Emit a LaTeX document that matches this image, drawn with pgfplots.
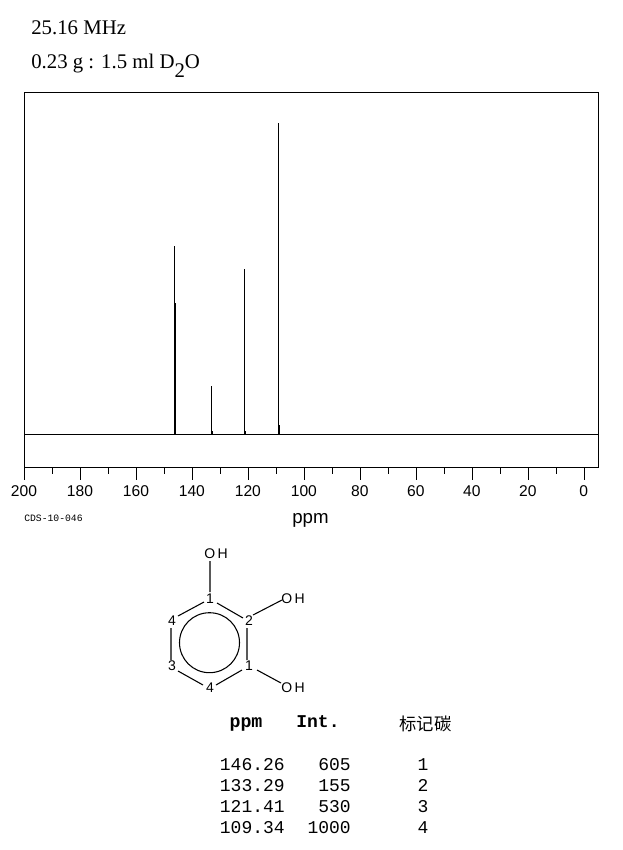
\documentclass[border=0pt]{standalone}
\usepackage{fontspec}
\usepackage{pgfplots}
\pgfplotsset{compat=1.18}
\setmainfont{Liberation Serif}
\newfontfamily\sans{Liberation Sans}
\newfontfamily\mono{Liberation Mono}
\newfontfamily\cjk{Noto Sans CJK SC}
% picture is laid out in reference pixels, 1px = 0.75pt, y running down
\begin{document}
\begin{tikzpicture}[x=0.75pt,y=-0.75pt]
\path[use as bounding box] (0,0) rectangle (622,850);

\begin{axis}[
  at={(18.6pt,-350.8pt)},anchor=south west,
  scale only axis,width=430.3pt,height=281.6pt,
  x dir=reverse,xmin=-5,xmax=200,ymin=-107,ymax=1098,
  xtick={0,20,...,200},minor x tick num=1,ytick=\empty,
  xtick pos=bottom,tick align=outside,
  major tick length=9pt,minor tick length=4.5pt,
  tick style={black,line width=0.8pt},
  axis line style={line width=0.85pt},
  /pgf/number format/assume math mode=true,
  xticklabel style={font=\sans\fontsize{11.7}{13}\selectfont,xshift=-0.6pt,yshift=-0.5pt},
  xlabel={\sans\fontsize{14}{15}\selectfont ppm},
  xlabel style={at={(axis description cs:0.498,0)},anchor=north,yshift=-30.5pt},
]
% baseline
\addplot[black,line width=0.85pt] coordinates {(-5,0) (200,0)};
% peaks: ppm, int (from the peak table)
\addplot[ycomb,black,line width=0.9pt,mark=none] coordinates {
(146.40,605)
(133.29,155)
(121.41,530)
(109.34,1000)
};
% heavier feet of the peaks
\addplot[ycomb,black,line width=1.2pt,mark=none] coordinates {
(146.10,421)
(133.15,12)
(121.30,10)
(109.15,30)
};
\end{axis}

% header
\node[anchor=base west,inner sep=0pt,font=\fontsize{15.6}{18}\selectfont] at (31,34) {25.16 MHz};
\node[anchor=base west,inner sep=0pt,font=\fontsize{15.6}{18}\selectfont] at (31,68) {0.23 g : 1.5 ml D\raisebox{-0.45em}{2}O};
\node[anchor=west,inner sep=0pt,font=\mono\fontsize{7.3}{9}\selectfont] at (24,518) {CDS-10-046};

% structure
\draw[line width=0.8pt] (209.5,642.7) circle [radius=22.5pt];
\draw[line width=0.8pt]
  (210,561)--(210,592)
  (217,603)--(243,618)
  (247,628)--(247,660)
  (242,670)--(216,685)
  (203,685)--(178,671)
  (171,660)--(171,628)
  (178,616)--(204,602)
  (253,615)--(282,600)
  (257,670)--(281,683);
\begin{scope}[every node/.style={inner sep=0pt,font=\sans\fontsize{10.5}{12}\selectfont}]
\node at (216,554) {O\,H};
\node at (293,599) {O\,H};
\node at (293,688) {O\,H};
\node at (210,599) {1};
\node at (249,621) {2};
\node at (249,666) {1};
\node at (210,688) {4};
\node at (172,666) {3};
\node at (172,621) {4};
\end{scope}

% peak table
\begin{scope}[every node/.style={inner sep=0pt,font=\mono\fontsize{13.5}{15}\selectfont}]
\node[anchor=base,font=\mono\bfseries\fontsize{13.7}{15}\selectfont] at (246,727) {ppm};
\node[anchor=base,font=\mono\bfseries\fontsize{13.5}{15}\selectfont] at (318,727) {Int.};
\node[anchor=base,font=\cjk\fontsize{13}{15}\selectfont] at (425.5,730) {标记碳};
\node[anchor=base east] at (285,770) {146.26};
\node[anchor=base east] at (285,791) {133.29};
\node[anchor=base east] at (285,812) {121.41};
\node[anchor=base east] at (285,833) {109.34};
\node[anchor=base east] at (351,770) {605};
\node[anchor=base east] at (351,791) {155};
\node[anchor=base east] at (351,812) {530};
\node[anchor=base east] at (351,833) {1000};
\node[anchor=base] at (423,770) {1};
\node[anchor=base] at (423,791) {2};
\node[anchor=base] at (423,812) {3};
\node[anchor=base] at (423,833) {4};
\end{scope}
\end{tikzpicture}
\end{document}
